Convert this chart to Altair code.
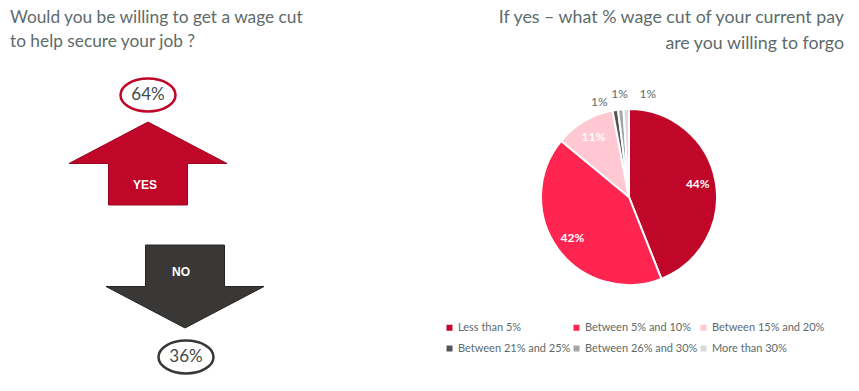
import altair as alt
import pandas as pd

# ---- data ----
answers = ["YES", "NO"]
answer_shares = [64, 36]

cut_labels = ["Less than 5%", "Between 5% and 10%", "Between 15% and 20%",
              "Between 21% and 25%", "Between 26% and 30%", "More than 30%"]
cut_shares = [44, 42, 11, 1, 1, 1]
cut_colors = ["#C00629", "#FE2550", "#FFC8D2", "#555555", "#A6A6A6", "#D9D9D9"]

title_left = ["Would you be willing to get a wage cut", "to help secure your job ?"]
title_right = ["If yes \u2013 what % wage cut of your current pay", "are you willing to forgo"]

# ---- styling ----
PAD_TOP = 10
W, H = 843, 375 - PAD_TOP
FONT = "Lato"
GRAY = "#5D6B6B"
DARK = "#3F4B4B"
CRIMSON = "#C00629"
ARROW_DARK = "#3A3836"
CX, CY, R = 621, 189 - PAD_TOP, 88

UP_PATH = "M0,-0.525 L1,0 L0.5,0 L0.5,0.525 L-0.5,0.525 L-0.5,0 L-1,0 Z"
DOWN_PATH = "M-0.5,-0.525 L0.5,-0.525 L0.5,0 L1,0 L0,0.525 L-1,0 L-0.5,0 Z"
ELLIPSE_PATH = "M-1,0 A1,0.6 0 1,1 1,0 A1,0.6 0 1,1 -1,0 Z"

ans_df = pd.DataFrame({"answer": answers, "share": answer_shares})
ans_df["label"] = ans_df["share"].astype(str) + "%"

pie_df = pd.DataFrame({"cut": cut_labels, "share": cut_shares,
                       "idx": list(range(len(cut_labels)))})
pie_df["label"] = pie_df["share"].astype(str) + "%"

dummy = pd.DataFrame({"k": [0]})


def Y(v):
    return alt.value(v - PAD_TOP)


# ---- titles ----
def title_lines(lines, align, x, size, gap):
    layers = []
    for j, line in enumerate(lines):
        layers.append(alt.Chart(dummy).mark_text(
            align=align, baseline="alphabetic", font=FONT, fontSize=size,
            color=GRAY).encode(x=alt.value(x), y=Y(15 + gap * j),
                               text=alt.value(line)))
    return layers

t_left = title_lines(title_left, "left", 2, 17.3, 24)
t_right = title_lines(title_right, "right", 836, 17.8, 26)

# ---- left panel: arrows ----
def arrow_layer(ans, path, fill, stroke, cx, cy):
    return alt.Chart(ans_df).transform_filter(f"datum.answer == '{ans}'").mark_point(
        shape=path, size=158 ** 2, filled=True, fill=fill, stroke=stroke,
        strokeWidth=1, opacity=1).encode(x=alt.value(cx), y=Y(cy))

def arrow_text(ans, cx, cy):
    return alt.Chart(ans_df).transform_filter(f"datum.answer == '{ans}'").mark_text(
        font="Liberation Sans", fontWeight="bold", fontSize=12, color="white",
        baseline="middle").encode(x=alt.value(cx), y=Y(cy), text="answer:N")

def ellipse_layer(ans, stroke, cx, cy):
    e = alt.Chart(ans_df).transform_filter(f"datum.answer == '{ans}'").mark_point(
        shape=ELLIPSE_PATH, size=55 ** 2, filled=False, stroke=stroke,
        strokeWidth=2.5, opacity=1).encode(x=alt.value(cx), y=Y(cy))
    t = alt.Chart(ans_df).transform_filter(f"datum.answer == '{ans}'").mark_text(
        font=FONT, fontSize=17, color=DARK, baseline="middle").encode(
        x=alt.value(cx), y=Y(cy), text="label:N")
    return e + t

up = arrow_layer("YES", UP_PATH, CRIMSON, "#9A0420", 140, 155.5)
down = arrow_layer("NO", DOWN_PATH, ARROW_DARK, "#262524", 177, 278.5)
yes_t = arrow_text("YES", 137, 177)
no_t = arrow_text("NO", 173, 264)
e64 = ellipse_layer("YES", CRIMSON, 140, 87)
e36 = ellipse_layer("NO", ARROW_DARK, 178, 349)

# ---- pie ----
pie_base = alt.Chart(pie_df).transform_calculate(
    inner="datum.share >= 5 ? datum.label : ''"
).encode(
    theta=alt.Theta("share:Q", stack=True),
    order=alt.Order("idx:Q"),
)

pie = pie_base.mark_arc(outerRadius=R, stroke="white", strokeWidth=2).encode(
    x=alt.value(CX), y=alt.value(CY),
    color=alt.Color("cut:N", sort=cut_labels,
                    scale=alt.Scale(domain=cut_labels, range=cut_colors),
                    legend=alt.Legend(
                        title=None, orient="none", legendX=436,
                        legendY=314 - PAD_TOP,
                        columns=3, direction="horizontal", symbolType="square",
                        symbolSize=36, symbolStrokeWidth=0, labelFont=FONT,
                        labelFontSize=11, labelColor=GRAY, columnPadding=0,
                        rowPadding=9, labelOffset=3)),
)

inner_txt = pie_base.mark_text(
    font=FONT, fontWeight="bold", fontSize=12, color="white", baseline="middle"
).encode(x=alt.value(CX), y=alt.value(CY), radius=alt.value(70), text="inner:N")

outer_offsets = [(3, -14, 4), (4, 0, -3), (5, 22, -3)]
outer_layers = []
for i, dx, dy in outer_offsets:
    outer_layers.append(
        alt.Chart(pie_df).transform_calculate(
            outer=f"datum.idx == {i} ? datum.label : ''"
        ).mark_text(font=FONT, fontSize=12, color=GRAY, baseline="middle",
                    dx=dx, dy=dy).encode(
            theta=alt.Theta("share:Q", stack=True), order=alt.Order("idx:Q"),
            x=alt.value(CX), y=alt.value(CY), radius=alt.value(100),
            text="outer:N")
    )

chart = alt.layer(
    *t_left, *t_right, up, down, yes_t, no_t, e64, e36, pie, inner_txt, *outer_layers
).properties(
    width=W, height=H, autosize=alt.AutoSizeParams(type="none"),
    padding={"left": 0, "top": PAD_TOP, "right": 0, "bottom": 0},
    background="white"
).configure_view(stroke="white", strokeWidth=0, strokeOpacity=0)

chart.save("out.html", embed_options={"renderer": "svg", "actions": False})
